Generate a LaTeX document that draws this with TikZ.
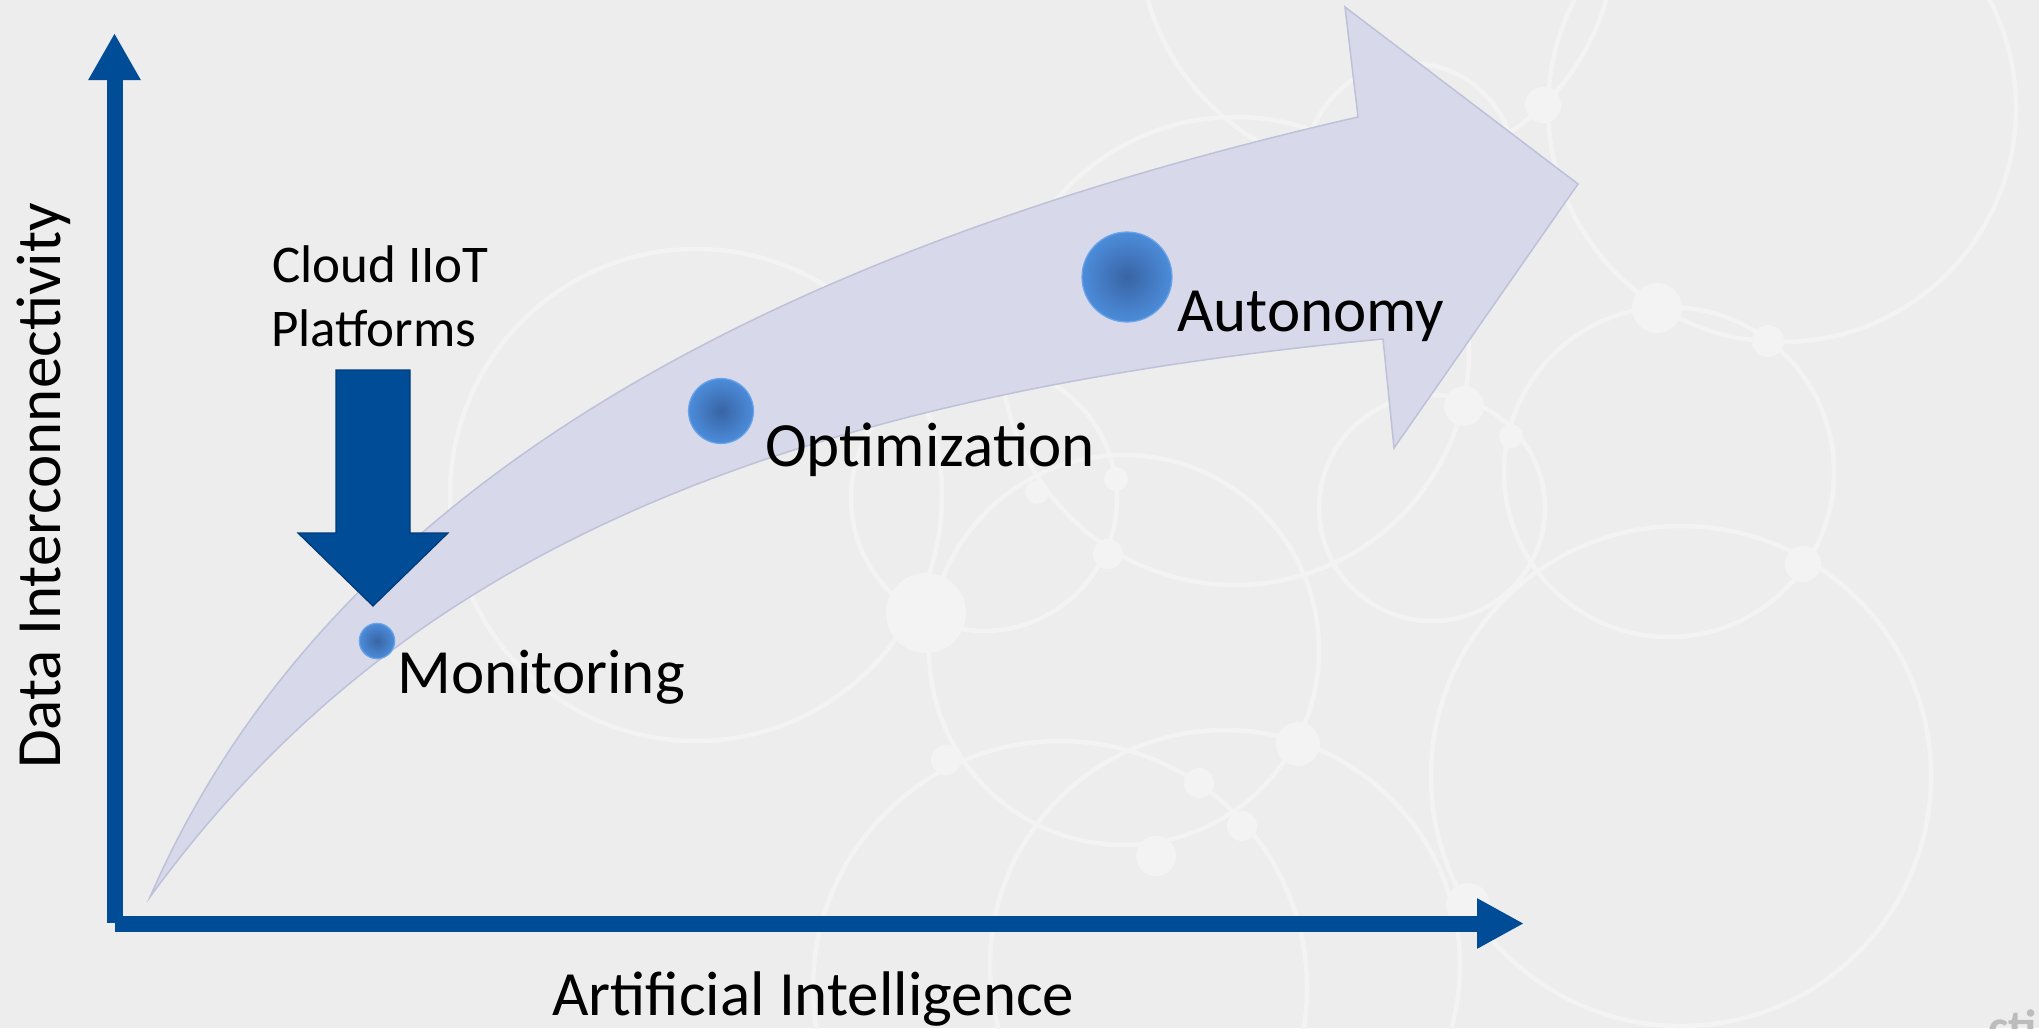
\documentclass[tikz,border=0pt]{standalone}
\usepackage{fontspec}
\setmainfont{Carlito}
\usetikzlibrary{arrows.meta}
\definecolor{axisblue}{RGB}{0,76,151}
\definecolor{axisdark}{RGB}{0,58,118}
\definecolor{bgc}{RGB}{237,237,237}
\definecolor{ringc}{RGB}{243,243,243}
\definecolor{bandc}{RGB}{212,214,234}
\definecolor{bandedge}{RGB}{190,193,216}
\definecolor{dotin}{RGB}{56,100,164}
\definecolor{dotout}{RGB}{76,140,218}
\definecolor{dotrim}{RGB}{105,165,232}
\definecolor{markc}{RGB}{188,188,188}
\begin{document}
\begin{tikzpicture}[x=1pt,y=-1pt,
  ring/.style={draw=ringc,line width=4.5pt},
  knot/.style={fill=ringc},
  axisline/.style={draw=axisblue,line width=16pt},
  lbl/.style={inner sep=0pt,font=\fontsize{63}{75}\selectfont,text=black},
  smalllbl/.style={inner sep=0pt,font=\fontsize{53}{64}\selectfont,text=black},
  dotnode/.style={circle,inner sep=0pt,shading=radial,inner color=dotin,outer color=dotout,draw=dotrim,line width=1.2pt}]
\useasboundingbox (0,0) rectangle (2039,1028);
\clip (0,0) rectangle (2039,1028);
\fill[bgc] (0,0) rectangle (2039,1028);
% background network of rings
\foreach \cx/\cy/\r in {696/495/246, 1235/351/234, 1377/-65/238, 1410/168/105,
  1782/108/234, 1669/472/165, 1432/508/113, 1681/776/250, 1124/650/195,
  984/498/133, 1060/988/247, 1225/965/235}
  \draw[ring] (\cx,\cy) circle[radius=\r pt];
\foreach \nx/\ny/\nr in {1543/105/18, 1657/308/25, 1768/341/16, 1464/406/20,
  1511/436/12, 1803/564/18, 1108/554/15, 1037/492/12, 1116/479/12, 926/613/40,
  946/760/15, 1298/744/22, 1199/783/15, 1242/826/15, 1156/856/20, 1468/905/22}
  \fill[knot] (\nx,\ny) circle[radius=\nr pt];
% big curved arrow
\draw[fill=bandc,fill opacity=0.88,draw=bandedge,line width=1.5pt,line join=miter]
  (150,897) .. controls (330,483) and (773,251) .. (1358,117)
  -- (1345,7) -- (1578,184) -- (1394,448) -- (1383,339)
  .. controls (740,400) and (386,573) .. (150,897) -- cycle;
% axes
\draw[axisline,-{Triangle[length=47pt,width=49pt]}] (114.5,923) -- (114.5,33);
\draw[axisline,-{Triangle[length=47pt,width=47pt]}] (115,923.5) -- (1524,923.5);
% cloud arrow
\draw[fill=axisblue,draw=axisdark,line width=1.2pt]
  (336,370) -- (410,370) -- (410,533) -- (448,533) -- (373,606)
  -- (298,533) -- (336,533) -- cycle;
% stage dots
\node[dotnode,minimum size=35.4pt] (d1) at (377,641) {};
\node[dotnode,minimum size=65pt] (d2) at (721,411) {};
\node[dotnode,minimum size=90pt] (d3) at (1127,277) {};
% labels
\node[lbl,anchor=base west] (mon) at (397,693) {Monitoring};
\node[lbl,anchor=base west] (opt) at (765,466) {Optimization};
\node[lbl,anchor=base west] (aut) at (1177,331) {Autonomy};
\node[lbl,anchor=base west] (xlab) at (552,1015) {Artificial Intelligence};
\node[lbl,anchor=base west,rotate=90] (ylab) at (60,769) {Data Interconnectivity};
\node[smalllbl,anchor=base west] (cl1) at (272,282) {Cloud IIoT};
\node[smalllbl,anchor=base west] (cl2) at (271,346) {Platforms};
% corner mark
\node[inner sep=0pt,anchor=base west,text=markc,font=\fontsize{48}{56}\selectfont\bfseries] (mark) at (1988,1043) {cti};
\end{tikzpicture}
\end{document}
